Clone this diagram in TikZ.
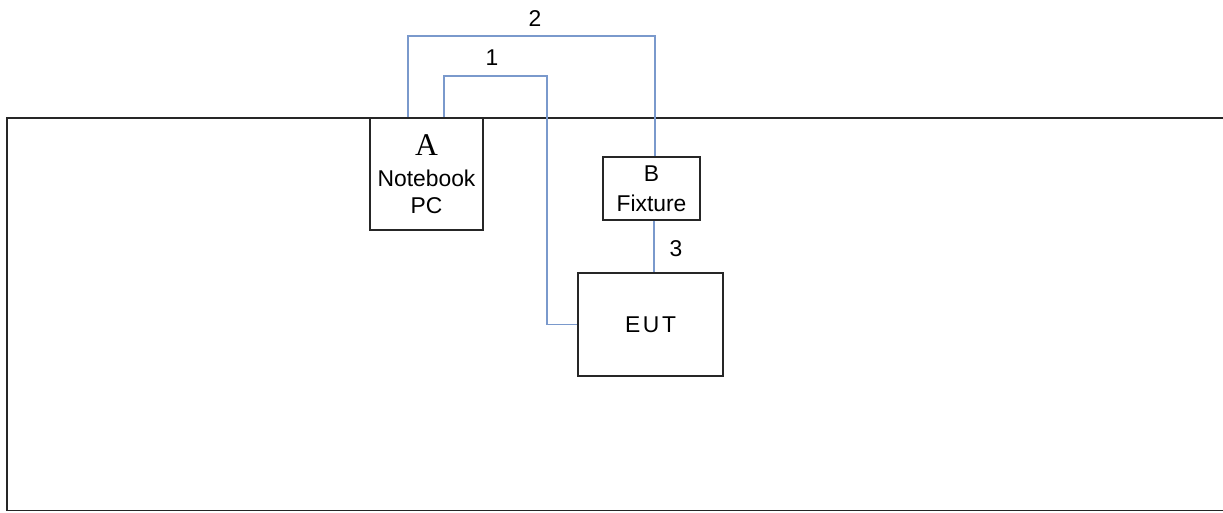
\documentclass[tikz,border=0pt]{standalone}
\usepackage{fontspec}
\setmainfont{Liberation Sans}
\newfontfamily\serifletter{Liberation Serif}
\usetikzlibrary{positioning}
\definecolor{cableblue}{RGB}{122,153,204}

\begin{document}
\begin{tikzpicture}[scale=1,
  unitbox/.style={draw=black!85,line width=0.9pt,align=center,inner sep=0pt,font=\fontsize{13}{15}\selectfont},
  cable/.style={draw=cableblue,line width=0.9pt},
  cablenum/.style={font=\fontsize{13}{15}\selectfont}]
\useasboundingbox (0,0) rectangle (24.46,-10.24);
\coordinate (F1) at (24.6,-2.36); \coordinate (F2) at (0.14,-2.36); \coordinate (F3) at (0.14,-10.21); \coordinate (F4) at (24.6,-10.21);
\draw[line width=0.9pt,black!85] (F1)--(F2)--(F3)--(F4);
\node[unitbox,minimum width=2.26cm,minimum height=2.24cm] (pc) at (8.53,-3.48) {{\serifletter\fontsize{18}{18}\selectfont A}\\[3pt] Notebook\\ PC};
\node[unitbox,minimum width=1.94cm,minimum height=1.26cm] (fix) at (13.03,-3.77) {B\\[2pt] Fixture};
\node[unitbox,minimum width=2.9cm,minimum height=2.06cm] (eut) at (13.01,-6.49) {E\hspace{1.5pt}U\hspace{1.5pt}T};
\coordinate (c1) at (10.94,-1.52); \coordinate (c2) at (0,-0.72);
\draw[cable] ([xshift=0.35cm]pc.north) |- (c1) |- (eut.west);
\draw[cable] ([xshift=-0.37cm]pc.north) |- ([xshift=0.07cm]fix.north |- c2) -- ([xshift=0.07cm]fix.north);
\draw[cable] ([xshift=0.05cm]fix.south) -- ([xshift=0.05cm]fix.south |- eut.north);
\node[cablenum] (n1) at (9.84,-1.16) {1};
\node[cablenum] (n2) at (10.7,-0.38) {2};
\node[cablenum] (n3) at (13.52,-4.98) {3};
\end{tikzpicture}
\end{document}
